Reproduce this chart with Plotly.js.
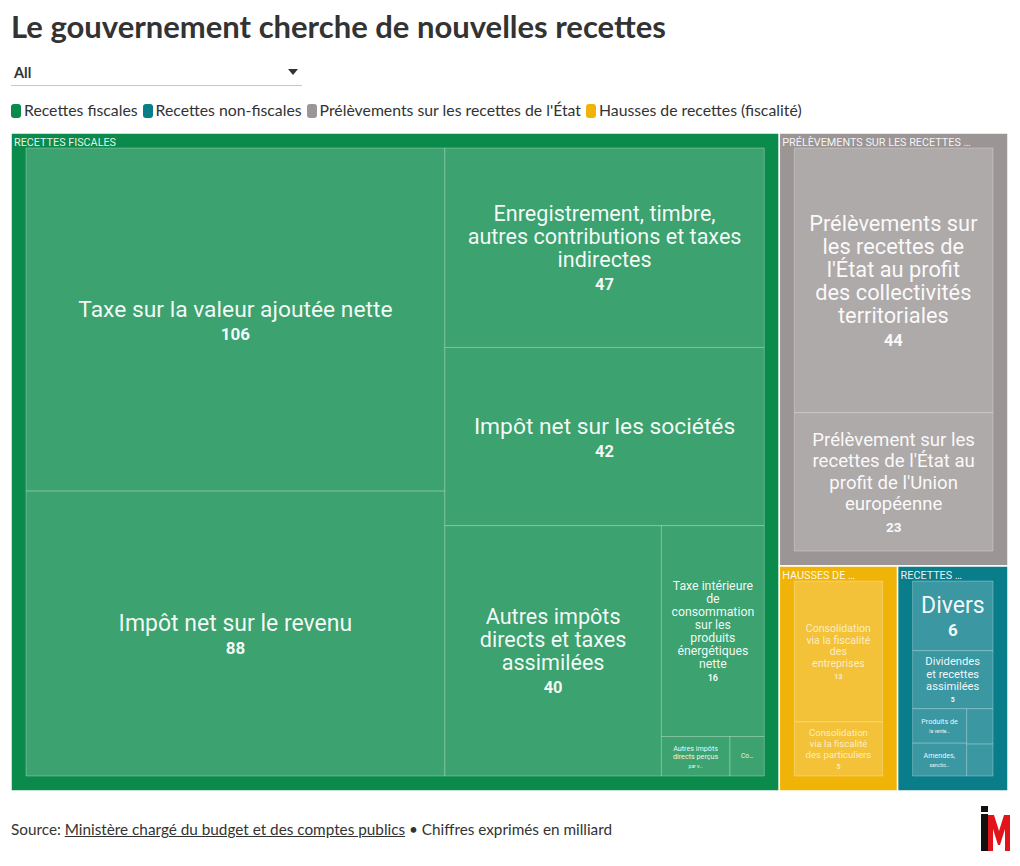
<!DOCTYPE html>
<html><head><meta charset="utf-8">
<script src="https://cdn.plot.ly/plotly-3.0.1.min.js"></script>
<style>
body{margin:0;width:1020px;height:866px;position:relative;background:#fff;overflow:hidden;font-family:Lato,sans-serif;color:#333}
#title{position:absolute;left:11px;top:7px;font-family:Lato;font-weight:700;font-size:31px;color:#333;white-space:nowrap}
#dd{position:absolute;left:11px;top:62px;width:291px;height:23px;border-bottom:1px solid #c8c8c8}
#dd .v{position:absolute;left:3px;top:2px;font-weight:700;font-size:14.5px;color:#333}
#dd .a{position:absolute;right:4px;top:7px;width:0;height:0;border-left:5px solid transparent;border-right:5px solid transparent;border-top:6px solid #333}
#legend{position:absolute;left:11px;top:100px;font-size:15.8px;white-space:nowrap;color:#333}
#legend span.it{margin-right:5px}
#legend i{display:inline-block;width:10px;height:14px;border-radius:3px;vertical-align:-2px;margin-right:3px}
#plot{position:absolute;left:-4px;top:0;width:1027px;height:866px}
#foot{position:absolute;left:11px;top:820px;font-size:15.3px;color:#333;white-space:nowrap}
#foot u{text-decoration:underline}
#logo{position:absolute;left:979px;top:804px}
</style></head>
<body>
<div id="plot"></div>
<div id="title"></div>
<div id="dd"><span class="v">All</span><span class="a"></span></div>
<div id="legend"></div>
<div id="foot">Source: <u>Ministère chargé du budget et des comptes publics</u> • Chiffres exprimés en milliard</div>
<svg id="logo" width="34" height="50" viewBox="0 0 34 50">
<rect x="2" y="2" width="7" height="6" fill="#111"/>
<rect x="2" y="10" width="7" height="37" fill="#111"/>
<polygon points="9,11 15,11 20,27 25,11 31,11 31,47 26,47 26,25 21,41 19,41 14,25 14,47 9,47" fill="#e1141b"/>
</svg>
<script>
// ---------- DATA ----------
const chartTitle = "Le gouvernement cherche de nouvelles recettes";
const categories = ["Recettes fiscales", "Recettes non-fiscales", "Prélèvements sur les recettes de l'État", "Hausses de recettes (fiscalité)"];
const categoryHeaders = ["RECETTES FISCALES", "RECETTES …", "PRÉLÈVEMENTS SUR LES RECETTES …", "HAUSSES DE …"];
const categoryColors = ["#0b8b4b", "#0a7d8b", "#9b9595", "#f0b308"];

const itemLabels = [
  "Taxe sur la valeur ajoutée nette",
  "Impôt net sur le revenu",
  "Enregistrement, timbre, autres contributions et taxes indirectes",
  "Impôt net sur les sociétés",
  "Autres impôts directs et taxes assimilées",
  "Taxe intérieure de consommation sur les produits énergétiques nette",
  "Autres impôts directs perçus par voie d'émission de rôles",
  "Contributions diverses",
  "Prélèvements sur les recettes de l'État au profit des collectivités territoriales",
  "Prélèvement sur les recettes de l'État au profit de l'Union européenne",
  "Consolidation via la fiscalité des entreprises",
  "Consolidation via la fiscalité des particuliers",
  "Divers",
  "Dividendes et recettes assimilées",
  "Produits de la vente de biens et services",
  "Produits du domaine de l'État",
  "Amendes, sanctions, pénalités et frais de poursuites",
  "Remboursements et intérêts des prêts"
];
const itemParents = [
  "Recettes fiscales","Recettes fiscales","Recettes fiscales","Recettes fiscales",
  "Recettes fiscales","Recettes fiscales","Recettes fiscales","Recettes fiscales",
  "Prélèvements sur les recettes de l'État","Prélèvements sur les recettes de l'État",
  "Hausses de recettes (fiscalité)","Hausses de recettes (fiscalité)",
  "Recettes non-fiscales","Recettes non-fiscales","Recettes non-fiscales",
  "Recettes non-fiscales","Recettes non-fiscales","Recettes non-fiscales"
];
const itemValues = [106, 88, 47, 42, 40, 16, 2, 1, 44, 23, 13, 5, 6, 5, 2, 1, 1.9, 0.9];
// label text as displayed in the tiles (wrapped / truncated as in the original)
const itemDisplay = [
  "Taxe sur la valeur ajoutée nette",
  "Impôt net sur le revenu",
  "Enregistrement, timbre,<br>autres contributions et taxes<br>indirectes",
  "Impôt net sur les sociétés",
  "Autres impôts<br>directs et taxes<br>assimilées",
  "Taxe intérieure<br>de<br>consommation<br>sur les<br>produits<br>énergétiques<br>nette",
  "Autres impôts<br>directs perçus<br>par v…",
  "Co…",
  "Prélèvements sur<br>les recettes de<br>l'État au profit<br>des collectivités<br>territoriales",
  "Prélèvement sur les<br>recettes de l'État au<br>profit de l'Union<br>européenne",
  "Consolidation<br>via la fiscalité<br>des<br>entreprises",
  "Consolidation<br>via la fiscalité<br>des particuliers",
  "Divers",
  "Dividendes<br>et recettes<br>assimilées",
  "Produits de<br>la vente…",
  "",
  "Amendes,<br>sanctio…",
  ""
];
const itemShownValues = ["106","88","47","42","40","16","","","44","23","13","5","6","5","","","",""];

// ---------- STYLE ----------
// [label px, line spacing px, value px, last-line px or 0]
const leafStyle = [
  [22.8,23,17,0],[23,23,17,0],[21.6,23,16.5,0],[22.8,23,16.5,0],[21.6,23,16.5,0],
  [12.3,13,9,0],[7.2,8.5,0,5],[6.5,8,0,0],
  [21.8,23,16.5,0],[18.6,21.5,13.5,0],
  [10.6,11.8,7,0],[9.6,11,7,0],
  [23,23,17,0],[11.2,12.3,7,0],[7.2,9,0,5],[7,8,0,0],[7.2,9,0,5],[7,8,0,0]
];

function mix(hex, a){
  const n = parseInt(hex.slice(1),16), r=n>>16, g=(n>>8)&255, b=n&255;
  const f = c => Math.round(c + (255-c)*a);
  return `rgb(${f(r)},${f(g)},${f(b)})`;
}

document.getElementById('title').textContent = chartTitle;
document.getElementById('legend').innerHTML = ["Recettes fiscales","Recettes non-fiscales","Prélèvements sur les recettes de l'État","Hausses de recettes (fiscalité)"]
  .map(c => `<span class="it"><i style="background:${categoryColors[categories.indexOf(c)]}"></i>${c}</span>`).join('');

const ids = categories.concat(itemLabels);
const parents = categories.map(()=>"").concat(itemParents);
const values = categories.map(()=>0).concat(itemValues);
const blankParentLabels = categories.map(()=>" ").concat(itemLabels);
const catTotals = categories.map(c => itemValues.filter((v,i)=>itemParents[i]===c).reduce((a,b)=>a+b,0));

const fillColors = categoryColors.concat(itemParents.map(p => mix(categoryColors[categories.indexOf(p)], 0.2)));
const lineColors = categories.map(()=>"#ffffff").concat(itemParents.map(()=> "rgba(255,255,255,0.28)"));
const lineWidths = categories.map(()=>1.5).concat(itemParents.map(()=>1));

const leafText = categories.map(()=>" ").concat(itemLabels.map((l,i)=>{
  const st = leafStyle[i];
  if(!itemDisplay[i]) return " ";
  const lines = itemDisplay[i].split("<br>");
  const parts = lines.map((ln,k)=>{
    const sz = (k===lines.length-1 && st[3]) ? st[3] : st[0];
    return `<span style="font-size:${sz}px">${ln}</span>`;
  });
  if(itemShownValues[i]) parts.push(`<span style="font-size:${st[2]}px;font-weight:bold">${itemShownValues[i]}</span>`);
  return parts.join("<br>");
}));
const leafBase = categories.map(()=>12).concat(leafStyle.map(s=>s[1]/1.3));
const leafColors = categories.map(()=>"#fff").concat(itemParents.map(p => p==="Hausses de recettes (fiscalité)" ? "rgba(255,255,255,0.72)" : "rgba(255,255,255,0.95)"));

const PAD = {t:15, l:15, r:15, b:15};
const base = {
  type: 'treemap', branchvalues: 'remainder', sort: true,
  tiling: {packing: 'squarify', squarifyratio: 1, pad: 0},
  pathbar: {visible: false},
  domain: {x:[0,1], y:[0,1]}
};

// tiles and colours
const traceA = Object.assign({}, base, {
  ids: ids, labels: blankParentLabels, parents: parents, values: values,
  text: ids.map(()=>" "), texttemplate: '%{text}',
  hovertext: ids,
  marker: {colors: fillColors, line: {color: lineColors, width: lineWidths}, pad: PAD},
  hovertemplate: '%{hovertext}<br>%{value}<extra></extra>'
});
// tile labels, centred
const traceB = Object.assign({}, base, {
  ids: ids, labels: blankParentLabels, parents: parents, values: values,
  text: leafText, texttemplate: '%{text}',
  textposition: 'middle center',
  textfont: {family: 'Roboto', size: leafBase, color: leafColors},
  marker: {colors: ids.map(()=> 'rgba(0,0,0,0)'), line: {width: 0}, pad: PAD},
  hoverinfo: 'skip'
});
// category headers, top-left
const traceC = Object.assign({}, base, {
  ids: categories, labels: categoryHeaders, parents: categories.map(()=>""), values: catTotals,
  texttemplate: '%{label}',
  textposition: 'top left',
  textfont: {family: 'Roboto', size: 10.8, color: 'rgba(255,255,255,0.92)'},
  marker: {colors: categories.map(()=> 'rgba(0,0,0,0)'), line: {width: 0}, pad: PAD},
  hoverinfo: 'skip'
});

Plotly.newPlot('plot', [traceA, traceB, traceC], {
  width: 1027, height: 866,
  margin: {l: 0, r: 0, t: 118, b: 60},
  paper_bgcolor: 'rgba(0,0,0,0)',
  showlegend: false
}, {displayModeBar: false});
</script>
</body></html>
